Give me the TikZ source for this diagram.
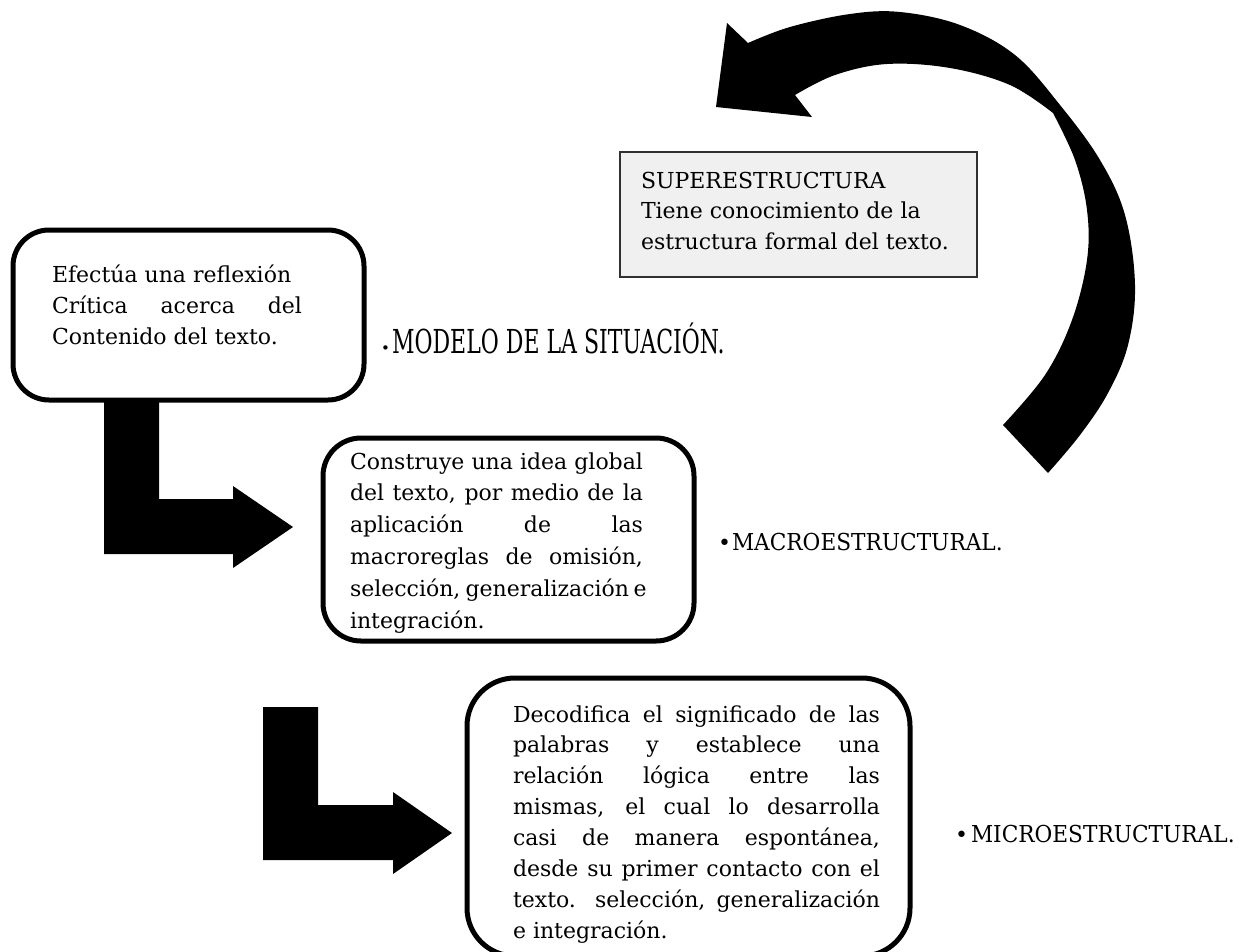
\documentclass[tikz,border=0pt]{standalone}
\usepackage{fontspec}
\setmainfont{DejaVu Serif}
\usepackage{graphicx}
\definecolor{supfill}{HTML}{F0F0F0}
\definecolor{supline}{HTML}{303030}
\begin{document}
\begin{tikzpicture}[x=1pt,y=-1pt,
  roundbox/.style={draw=black, line width=5pt, fill=white, rectangle, inner sep=0pt},
  blockarrow/.style={fill=black},
  txt/.style={anchor=base west, inner sep=0pt, outer sep=0pt, font=\fontsize{22}{31}\selectfont},
  lbl/.style={anchor=base west, inner sep=0pt, outer sep=0pt, font=\fontsize{22}{26}\selectfont}]

\clip (0,0) rectangle (1242,951);

% curved arrow
\fill[blockarrow] plot[smooth, tension=0.6] coordinates {(748,43) (790,27) (850,14) (900,12) (960,25) (1015,55) (1060,105) (1100,160) (1125,215) (1135,285) (1128,345) (1108,393) (1080,435) (1048,473)}
  -- plot[smooth, tension=0.6] coordinates {(1003,425) (1045,375) (1072,320) (1087,260) (1087,210) (1075,160) (1053,113)}
  -- plot[smooth, tension=0.6] coordinates {(1053,113) (1010,85) (950,68) (887,64) (835,75) (795,95)}
  -- (812,117) -- (716,107) -- (727,23) -- cycle;

% L arrows
\fill[blockarrow] (104,398) -- (159,398) -- (159,499) -- (233,499) -- (233,486) -- (293,527) -- (233,568) -- (233,554) -- (104,554) -- cycle;
\fill[blockarrow] (263,707) -- (318,707) -- (318,805) -- (393,805) -- (393,792) -- (452,833) -- (393,874) -- (393,860) -- (263,860) -- cycle;

% boxes
\node[roundbox, rounded corners=36pt, minimum width=351pt, minimum height=170pt] (b1) at (188.5,315) {};
\node[roundbox, rounded corners=38pt, minimum width=371pt, minimum height=203pt] (b2) at (508.5,539.5) {};
\node[roundbox, rounded corners=48pt, minimum width=443pt, minimum height=278pt] (b3) at (688.5,817) {};
\node[draw=supline, line width=1.6pt, fill=supfill, rectangle, inner sep=0pt, minimum width=357pt, minimum height=125pt] (sup) at (798.5,214.5) {};

% texts
\node[txt] (t1) at (52,282) {\vtop{\baselineskip=31pt
  \hbox{Efectúa una reflexión}
  \hbox to 250pt{Crítica acerca del}
  \hbox{Contenido del texto.}}};

\begin{scope}
\clip (330,445) rectangle (690,633);
\node[txt] (t2) at (350,469) {\vtop{\baselineskip=31.8pt
  \hbox to 293pt{Construye una idea global}
  \hbox to 293pt{del texto, por medio de la}
  \hbox to 293pt{aplicación de las}
  \hbox to 293pt{macroreglas de omisión,}
  \hbox to 293pt{selección, generalización e}
  \hbox{integración.}}};
\end{scope}

\begin{scope}
\clip (480,690) rectangle (900,944);
\node[txt] (t3) at (513,722) {\vtop{\baselineskip=30.9pt
  \hbox to 367pt{Decodifica el significado de las}
  \hbox to 367pt{palabras y establece una}
  \hbox to 367pt{relación lógica entre las}
  \hbox to 367pt{mismas, el cual lo desarrolla}
  \hbox to 367pt{casi de manera espontánea,}
  \hbox to 367pt{desde su primer contacto con el}
  \hbox to 367pt{texto. selección, generalización}
  \hbox{e integración.}}};
\end{scope}

\node[txt] (t4) at (641,188) {\vtop{\baselineskip=30.5pt
  \hbox{SUPERESTRUCTURA}
  \hbox{Tiene conocimiento de la}
  \hbox{estructura formal del texto.}}};

% labels
\node[lbl] (modelo) at (381,353) {\hbox to 11pt{\fontsize{15}{15}\selectfont •\hss}\scalebox{1.0}[1.5]{MODELO DE LA SITUACIÓN.}};
\node[lbl] (macro) at (718,550) {\hbox to 14pt{•\hss}\scalebox{0.985}[1.06]{MACROESTRUCTURAL.}};
\node[lbl] (micro) at (955,842) {\hbox to 16pt{•\hss}\scalebox{0.985}[1.06]{MICROESTRUCTURAL.}};
\end{tikzpicture}
\end{document}
